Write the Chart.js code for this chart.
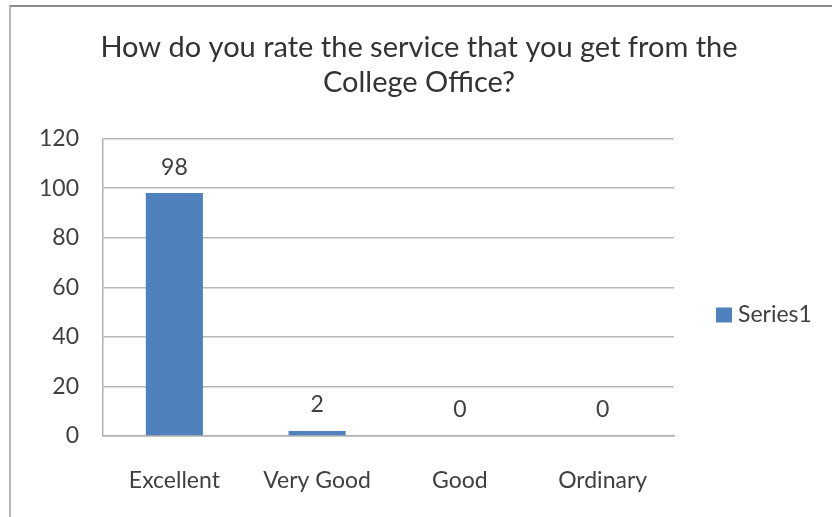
<!DOCTYPE html>
<html>
<head>
<meta charset="utf-8">
<script src="https://cdn.jsdelivr.net/npm/chart.js@4.4.1/dist/chart.umd.min.js"></script>
<style>
  html, body { margin: 0; padding: 0; background: #ffffff; }
  #wrap { position: relative; width: 832px; height: 517px; overflow: hidden; }
  #c { position: absolute; left: 0; top: 0; }
  #frame { position: absolute; left: 9px; top: 5px; width: 840px; height: 530px;
           border-top: 2px solid #8c8c8c; border-left: 2px solid #b8b8b8; pointer-events: none; }
</style>
</head>
<body>
<div id="wrap">
  <canvas id="c" width="832" height="517"></canvas>
  <div id="frame"></div>
</div>
<script>
// ---- data ----
const titleLines = ["How do you rate the service that you get from the", "College Office?"];
const categories = ["Excellent", "Very Good", "Good", "Ordinary"];
const seriesName = "Series1";
const seriesValues = [98, 2, 0, 0];
const yTicks = [0, 20, 40, 60, 80, 100, 120];

const FONT = "Lato, 'Open Sans', sans-serif";
const LABEL_SIZE = 23;
const BAR_COLOR = "#4F81BD";
const TEXT_COLOR = "#404040";

const valueLabels = {
  id: "valueLabels",
  afterDatasetsDraw(chart) {
    const ctx = chart.ctx;
    const meta = chart.getDatasetMeta(0);
    ctx.save();
    ctx.font = LABEL_SIZE + "px " + FONT;
    ctx.fillStyle = TEXT_COLOR;
    ctx.textAlign = "center";
    ctx.textBaseline = "middle";
    meta.data.forEach((bar, i) => {
      ctx.fillText(String(chart.data.datasets[0].data[i]), bar.x, bar.y - 26);
    });
    ctx.restore();
  }
};

const sideLegend = {
  id: "sideLegend",
  afterDraw(chart) {
    const ctx = chart.ctx;
    const ds = chart.data.datasets[0];
    const x = chart.chartArea.right + 42;
    const y = 315;
    ctx.save();
    ctx.fillStyle = ds.backgroundColor;
    ctx.fillRect(x, y - 7.5, 16, 15);
    ctx.font = LABEL_SIZE + "px " + FONT;
    ctx.fillStyle = TEXT_COLOR;
    ctx.textAlign = "left";
    ctx.textBaseline = "middle";
    ctx.fillText(ds.label, x + 22, y);
    ctx.restore();
  }
};

function draw() {
  new Chart(document.getElementById("c"), {
    type: "bar",
    data: {
      labels: categories,
      datasets: [{
        label: seriesName,
        data: seriesValues,
        backgroundColor: BAR_COLOR,
        borderWidth: 0,
        barPercentage: 1.0,
        categoryPercentage: 0.4
      }]
    },
    options: {
      responsive: false,
      animation: false,
      devicePixelRatio: 1,
      layout: { padding: { left: 6, right: 0, top: 0, bottom: 0 } },
      plugins: {
        legend: { display: false },
        tooltip: { enabled: false },
        title: {
          display: true,
          text: titleLines,
          color: "#333333",
          font: { family: FONT, size: 29, weight: "normal", lineHeight: 1.2 },
          padding: { top: 30, bottom: 39 }
        }
      },
      scales: {
        x: {
          grid: { display: false, drawTicks: false },
          border: { display: true, color: "#b0b0b0", width: 1.5 },
          ticks: { color: TEXT_COLOR, font: { family: FONT, size: LABEL_SIZE }, padding: 31, maxRotation: 0 },
          afterFit(scale) { scale.height = 81; }
        },
        y: {
          min: 0,
          max: 120,
          afterBuildTicks(scale) { scale.ticks = yTicks.map(v => ({ value: v })); },
          grid: { color: "#b8b8b8", lineWidth: 1.5, drawTicks: false },
          border: { display: true, color: "#b0b0b0", width: 1.5 },
          ticks: { color: TEXT_COLOR, font: { family: FONT, size: LABEL_SIZE }, padding: 24 },
          afterFit(scale) { scale.width = 97; }
        },
        legendSpace: {
          type: "linear",
          position: "right",
          display: true,
          grid: { display: false, drawTicks: false },
          border: { display: false },
          ticks: { display: false },
          afterFit(scale) { scale.width = 158; }
        }
      }
    },
    plugins: [valueLabels, sideLegend]
  });
}

if (document.fonts && document.fonts.load) {
  Promise.all([document.fonts.load("23px Lato"), document.fonts.load("29px Lato")]).then(draw, draw);
} else {
  draw();
}
</script>
</body>
</html>
